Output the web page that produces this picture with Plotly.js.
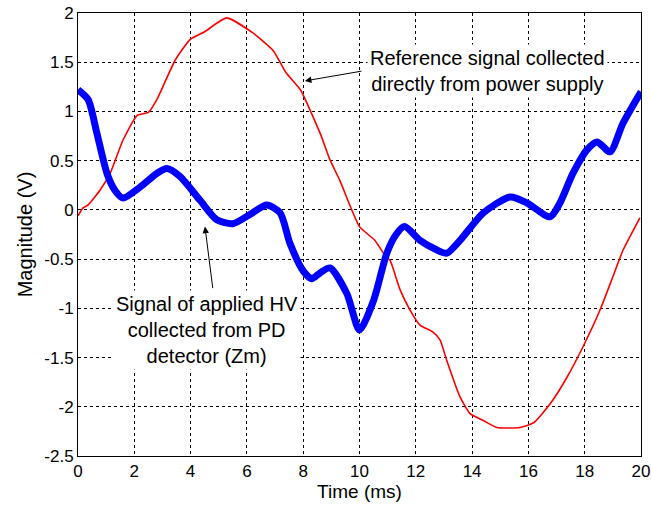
<!DOCTYPE html>
<html>
<head>
<meta charset="utf-8">
<script src="https://cdn.plot.ly/plotly-3.0.1.min.js"></script>
<style>html,body{margin:0;padding:0;background:#fff;}#chart{width:652px;height:510px;}</style>
</head>
<body>
<div id="chart"></div>
<script>
// Reference signal (red) collected directly from power supply
var refTime = [0, 0.18, 0.36, 0.78, 1.14, 1.6, 2.1, 2.5, 2.8, 3.45, 3.98, 4.5, 5.28, 6.2, 6.93, 7.4, 7.9, 8.6, 8.95, 9.3, 10.0, 10.55, 10.97, 11.08, 11.44, 11.8, 12.15, 12.6, 12.86, 13.1, 13.57, 13.93, 14.4, 14.88, 15.7, 16.2, 16.8, 17.37, 17.94, 18.54, 19.0, 19.36, 19.96];
var refValue = [-0.06, 0.02, 0.05, 0.2, 0.37, 0.71, 0.96, 0.99, 1.12, 1.52, 1.73, 1.81, 1.95, 1.8, 1.62, 1.39, 1.22, 0.78, 0.51, 0.30, -0.17, -0.31, -0.49, -0.51, -0.81, -1.02, -1.17, -1.24, -1.32, -1.53, -1.9, -2.07, -2.14, -2.21, -2.21, -2.16, -1.96, -1.7, -1.39, -1.02, -0.68, -0.41, -0.08];

// Signal of applied HV (blue) collected from PD detector (Zm)
var hvTime = [0, 0.36, 0.67, 1.03, 1.31, 1.6, 2.2, 2.8, 3.16, 3.62, 4.33, 4.93, 5.5, 6.2, 6.7, 7.18, 7.53, 8.0, 8.3, 8.6, 8.95, 9.55, 10.0, 10.5, 10.97, 11.3, 11.6, 12.15, 12.7, 13.1, 13.57, 14.4, 15.35, 15.95, 16.77, 17.12, 17.58, 18.08, 18.44, 18.9, 19.36, 20];
var hvValue = [1.22, 1.12, 0.78, 0.37, 0.2, 0.12, 0.23, 0.37, 0.42, 0.34, 0.1, -0.1, -0.14, -0.03, 0.05, -0.03, -0.34, -0.62, -0.7, -0.64, -0.59, -0.85, -1.22, -0.92, -0.44, -0.25, -0.17, -0.31, -0.4, -0.44, -0.31, -0.03, 0.13, 0.07, -0.07, 0.07, 0.37, 0.61, 0.69, 0.59, 0.88, 1.2];

var xTicks = [0, 2, 4, 6, 8, 10, 12, 14, 16, 18, 20];
var yTicks = [-2.5, -2, -1.5, -1, -0.5, 0, 0.5, 1, 1.5, 2];

var FONT = 'Liberation Sans, Arial, Helvetica, sans-serif';

var traces = [
  {x: refTime, y: refValue, type: 'scatter', mode: 'lines',
   line: {color: '#ff0000', width: 1.6, shape: 'spline', smoothing: 0.5}, hoverinfo: 'skip'},
  {x: hvTime, y: hvValue, type: 'scatter', mode: 'lines',
   line: {color: '#0000ff', width: 7, shape: 'spline', smoothing: 0.7}, hoverinfo: 'skip'}
];

var axisCommon = {
  showline: true, mirror: true, linecolor: '#000', linewidth: 1,
  showgrid: true, gridcolor: '#000', gridwidth: 1, griddash: '3px,3px',
  zeroline: false, ticks: '', tickfont: {family: FONT, size: 17, color: '#000'}
};

var layout = {
  width: 652, height: 510,
  margin: {l: 78, r: 11, t: 13, b: 54},
  paper_bgcolor: '#fff', plot_bgcolor: '#fff',
  showlegend: false,
  font: {family: FONT, color: '#000'},
  xaxis: Object.assign({}, axisCommon, {
    range: [0, 20], tickvals: xTicks, ticktext: xTicks.map(String),
    title: {text: 'Time (ms)', font: {family: FONT, size: 19, color: '#000'}, standoff: 4}
  }),
  yaxis: Object.assign({}, axisCommon, {
    range: [-2.5, 2], tickvals: yTicks, ticktext: yTicks.map(String),
    title: {text: 'Magnitude (V)', font: {family: FONT, size: 20, color: '#000'}, standoff: 6}
  }),
  annotations: [
    {x: 14.53, y: 1.41, xref: 'x', yref: 'y', showarrow: false,
     text: 'Reference signal collected<br>directly from power supply',
     font: {family: FONT, size: 20, color: '#000'}, bgcolor: '#fff', borderpad: 2},
    {x: 8.06, y: 1.31, xref: 'x', yref: 'y', text: '', showarrow: true,
     ax: 58, ay: -10, arrowhead: 2, arrowsize: 1.3, arrowwidth: 1, arrowcolor: '#000'},
    {x: 4.58, y: -1.22, xref: 'x', yref: 'y', showarrow: false,
     text: 'Signal of applied HV<br>collected from PD<br>detector (Zm)',
     font: {family: FONT, size: 20, color: '#000'}, bgcolor: '#fff', borderpad: 2},
    {x: 4.51, y: -0.17, xref: 'x', yref: 'y', text: '', showarrow: true,
     ax: 8, ay: 63, arrowhead: 2, arrowsize: 1.3, arrowwidth: 1, arrowcolor: '#000'}
  ]
};

Plotly.newPlot('chart', traces, layout, {staticPlot: true, displayModeBar: false});
</script>
</body>
</html>
